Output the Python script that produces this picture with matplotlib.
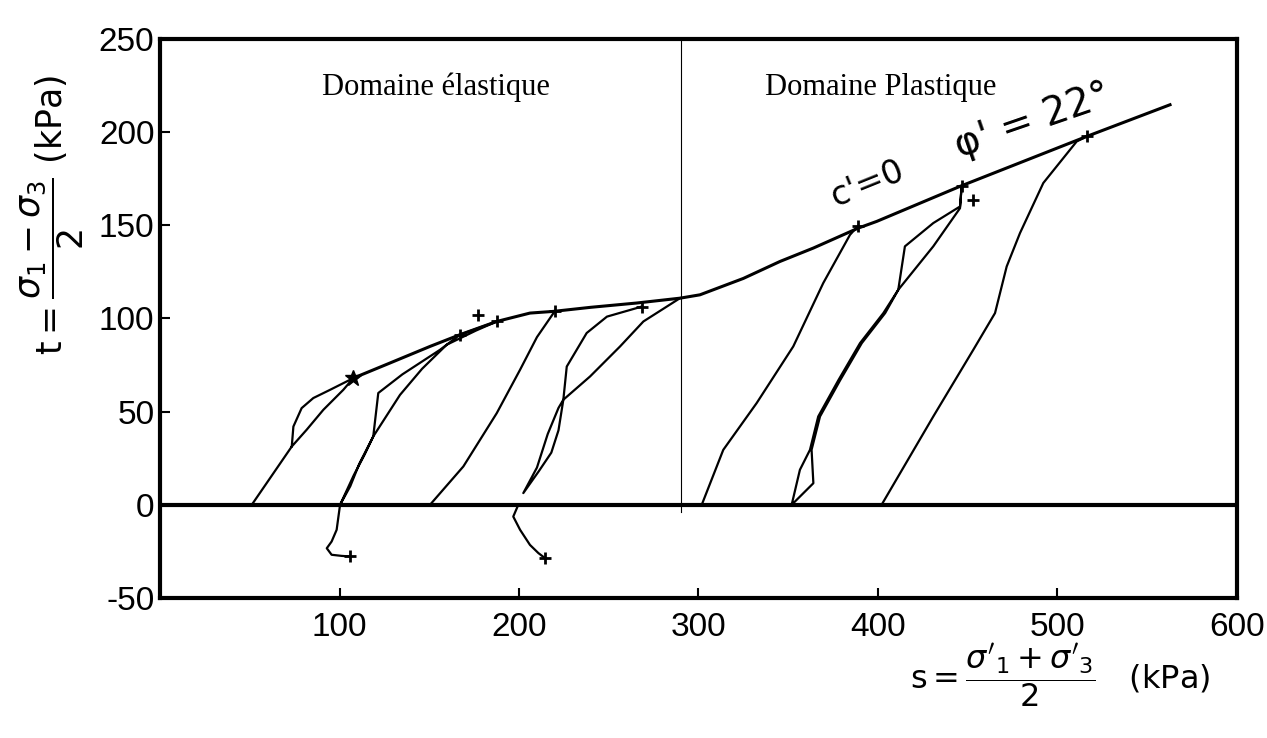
import matplotlib
matplotlib.use('Agg')
import matplotlib.pyplot as plt

# Stress paths s-t (kPa)
# failure envelope (c' = 0, phi' = 22 deg)
env_s = [107.7, 128.1, 150.4, 167.1, 187.6, 206.1, 219.1, 240.0, 265.6, 289.7, 300.8, 325.0, 345.4, 364.0, 389.0, 399.3, 445.7, 516.3, 562.7]
env_t = [68.0, 76.1, 85.0, 91.3, 98.4, 102.9, 103.8, 106.0, 108.3, 110.9, 112.7, 121.5, 130.6, 137.8, 148.5, 152.1, 170.9, 197.7, 214.7]

# path starting at s = 50
a_s = [51.1, 73.4, 74.3, 78.9, 85.4, 94.7, 107.7, 102.1, 91.0, 81.7, 73.4]
a_t = [0.0, 31.3, 42.0, 51.9, 57.3, 61.7, 68.0, 61.7, 51.0, 40.3, 31.3]

# path starting at s = 100 (loading + unloading loop)
b_s = [100.3, 106.0, 111.0, 118.8, 121.6, 135.0, 156.0, 167.1, 187.6, 176.0, 159.7, 146.0, 133.7, 118.8, 114.0, 108.0, 100.3]
b_t = [0.0, 10.0, 22.0, 36.7, 60.0, 70.0, 83.2, 91.3, 98.4, 93.5, 85.9, 73.0, 59.0, 36.7, 27.0, 16.0, 0.0]
# tail below zero from s = 100
bt_s = [100.3, 98.4, 95.6, 92.9, 95.6, 101.2, 105.8]
bt_t = [0.0, -13.4, -19.7, -23.3, -26.8, -27.4, -27.7]

# path starting at s = 150
c_s = [150.4, 169.0, 187.6, 200.6, 210.0, 220.0]
c_t = [0.0, 20.6, 49.2, 72.5, 90.0, 104.0]

# path starting at s = 200
d_s = [268.3, 265.6, 249.0, 237.7, 226.6, 224.7, 222.0, 216.0, 210.0, 202.4, 211.0, 218.0, 222.0, 224.7, 239.6, 256.3, 269.3, 289.7]
d_t = [106.4, 105.6, 101.0, 92.2, 74.2, 56.4, 52.0, 38.0, 20.0, 6.3, 18.0, 28.0, 40.0, 56.4, 68.9, 85.0, 98.4, 110.9]
dt_s = [199.6, 196.8, 200.6, 206.1, 210.8, 214.5]
dt_t = [0.0, -6.3, -13.4, -21.5, -25.9, -28.6]

# plastic domain paths
e_s = [301.8, 313.8, 332.4, 352.8, 369.5, 384.4, 389.0]
e_t = [0.0, 29.5, 54.6, 85.0, 119.0, 144.9, 149.8]

f_s = [351.9, 356.5, 362.1, 366.7, 378.0, 390.0, 403.0, 411.3, 415.0, 430.8, 445.7, 446.6, 445.7, 430.8, 411.3, 404.0, 391.0, 379.0, 367.7, 363.0, 364.0, 351.9]
f_t = [0.0, 18.8, 29.5, 47.4, 67.0, 86.8, 102.9, 115.4, 138.7, 151.2, 160.1, 170.9, 159.2, 138.7, 115.4, 102.9, 86.8, 67.0, 47.4, 29.5, 11.6, 0.0]

g_s = [402.0, 430.8, 453.1, 465.2, 471.7, 479.1, 492.1, 510.7, 516.3]
g_t = [0.0, 47.4, 83.2, 102.9, 127.9, 145.8, 172.7, 195.0, 197.7]

# end-of-test crosses
mk_s = [177.3, 167.1, 187.6, 220.0, 268.3, 105.8, 214.5, 389.0, 446.6, 453.0, 516.3]
mk_t = [102.0, 91.3, 98.4, 104.0, 106.4, -27.7, -28.6, 149.8, 170.9, 163.7, 197.7]

s_limit = 290  # elastic / plastic boundary

x_ticks = [100, 200, 300, 400, 500, 600]
y_ticks = [-50, 0, 50, 100, 150, 200, 250]

plt.rcParams['axes.unicode_minus'] = False
plt.rcParams['mathtext.fontset'] = 'dejavusans'

fig = plt.figure(figsize=(12.67, 7.38), dpi=100)
fig.set_facecolor('white')
ax = fig.add_axes([0.1263, 0.1897, 0.850, 0.7575])

ax.plot(env_s, env_t, color='black', lw=2.2)
for xs, ys in [(a_s, a_t), (b_s, b_t), (bt_s, bt_t), (c_s, c_t), (d_s, d_t),
               (dt_s, dt_t), (e_s, e_t), (f_s, f_t), (g_s, g_t)]:
    ax.plot(xs, ys, color='black', lw=1.6)
ax.plot(mk_s, mk_t, ls='none', marker='+', ms=9, mew=2, color='black')
ax.plot([107.7], [68.0], ls='none', marker='*', ms=12, color='black')

ax.axhline(0, color='black', lw=3)
ax.plot([s_limit, s_limit], [-4, 250], color='black', lw=0.8)

ax.set_xlim(0, 600)
ax.set_ylim(-50, 250)
ax.set_xticks(x_ticks)
ax.set_yticks(y_ticks)
ax.tick_params(direction='in', length=7, width=1.5, labelsize=24)
ax.tick_params(axis='x', pad=10)
ax.tick_params(axis='y', pad=4)
for lbl in ax.get_xticklabels() + ax.get_yticklabels():
    lbl.set_family('Liberation Sans')
for sp in ax.spines.values():
    sp.set_linewidth(3)

ax.text(90, 220, 'Domaine élastique', family='Liberation Serif', fontsize=22, va='baseline')
ax.text(466, 220, 'Domaine Plastique', family='Liberation Serif', fontsize=22, va='baseline', ha='right')
ax.text(394, 172, "c'=0", fontsize=24, rotation=22, ha='center', va='center')
ax.text(486, 206, "φ' = 22°", fontsize=28, rotation=19, ha='center', va='center')

fig.text(52 / 1267, 1 - 215 / 738, r'$\mathrm{t} = \dfrac{\sigma_1 - \sigma_3}{2}\ (\mathrm{kPa})$',
         rotation=90, fontsize=25, ha='center', va='center')
fig.text(1060 / 1267, 1 - 675 / 738, r"$\mathrm{s} = \dfrac{\sigma'_1 + \sigma'_3}{2}\quad (\mathrm{kPa})$",
         fontsize=23, ha='center', va='center')

fig.savefig('out.png', dpi=100)
